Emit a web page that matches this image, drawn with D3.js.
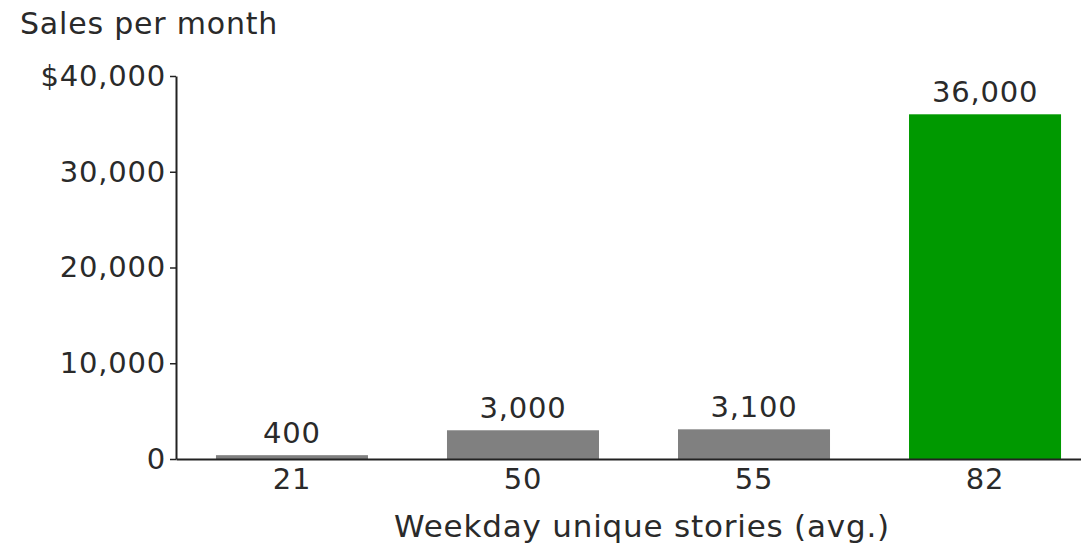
<!DOCTYPE html>
<html>
<head>
<meta charset="utf-8">
<script src="https://cdn.jsdelivr.net/npm/d3@7"></script>
<style>
  html, body { margin: 0; padding: 0; background: #fff; }
  svg { display: block; }
  text { font-family: "DejaVu Sans", Verdana, sans-serif; fill: #2a2a2a; letter-spacing: 0.8px; }
</style>
</head>
<body>
<svg id="chart" width="1081" height="543"></svg>
<script>
// Average weekday unique stories and the sales per month for each
const categories = ["21", "50", "55", "82"];
const sales = [400, 3000, 3100, 36000];
const barColors = ["#808080", "#808080", "#808080", "#009900"];
const yTicks = [0, 10000, 20000, 30000, 40000];
const yTickLabels = ["0", "10,000", "20,000", "30,000", "$40,000"];
const valueLabels = ["400", "3,000", "3,100", "36,000"];

const svg = d3.select("#chart");
const x0 = 176, yBase = 459, yTop = 76;

const x = d3.scaleBand()
  .domain(categories)
  .range([x0, 1101])
  .paddingInner(0.342)
  .paddingOuter(0.173);

const y = d3.scaleLinear()
  .domain([0, 40000])
  .range([yBase, yTop]);

// Bars
svg.append("g")
  .selectAll("rect")
  .data(categories)
  .join("rect")
  .attr("x", d => x(d))
  .attr("width", x.bandwidth())
  .attr("y", (d, i) => y(sales[i]))
  .attr("height", (d, i) => yBase - y(sales[i]))
  .attr("fill", (d, i) => barColors[i]);

// Value labels above bars
svg.append("g")
  .selectAll("text")
  .data(categories)
  .join("text")
  .attr("x", d => x(d) + x.bandwidth() / 2)
  .attr("y", (d, i) => y(sales[i]) - 12)
  .attr("text-anchor", "middle")
  .style("font-size", "29px")
  .text((d, i) => valueLabels[i]);

// Y axis
const yAxis = d3.axisLeft(y)
  .tickValues(yTicks)
  .tickFormat((d, i) => yTickLabels[i])
  .tickSize(6)
  .tickSizeOuter(0)
  .tickPadding(4);

const gy = svg.append("g")
  .attr("transform", `translate(${x0},0)`)
  .call(yAxis);
gy.select(".domain").attr("stroke", "#222").attr("stroke-width", 2);
gy.selectAll(".tick line").attr("stroke", "#222").attr("stroke-width", 1.5);
gy.selectAll(".tick text")
  .attr("fill", "#2a2a2a")
  .style("font-family", "'DejaVu Sans', Verdana, sans-serif")
  .style("font-size", "29px");

// X axis (baseline with category labels, no tick marks)
const xAxis = d3.axisBottom(x)
  .tickSize(0)
  .tickSizeOuter(0)
  .tickPadding(9);

const gx = svg.append("g")
  .attr("transform", `translate(0,${yBase})`)
  .call(xAxis);
gx.select(".domain").attr("stroke", "#222").attr("stroke-width", 2);
gx.selectAll(".tick text")
  .attr("fill", "#2a2a2a")
  .style("font-family", "'DejaVu Sans', Verdana, sans-serif")
  .style("font-size", "29px");

// Titles
svg.append("text")
  .attr("x", 20)
  .attr("y", 34)
  .style("font-size", "30px")
  .text("Sales per month");

svg.append("text")
  .attr("x", 642)
  .attr("y", 537)
  .attr("text-anchor", "middle")
  .style("font-size", "31px")
  .text("Weekday unique stories (avg.)");
</script>
</body>
</html>
